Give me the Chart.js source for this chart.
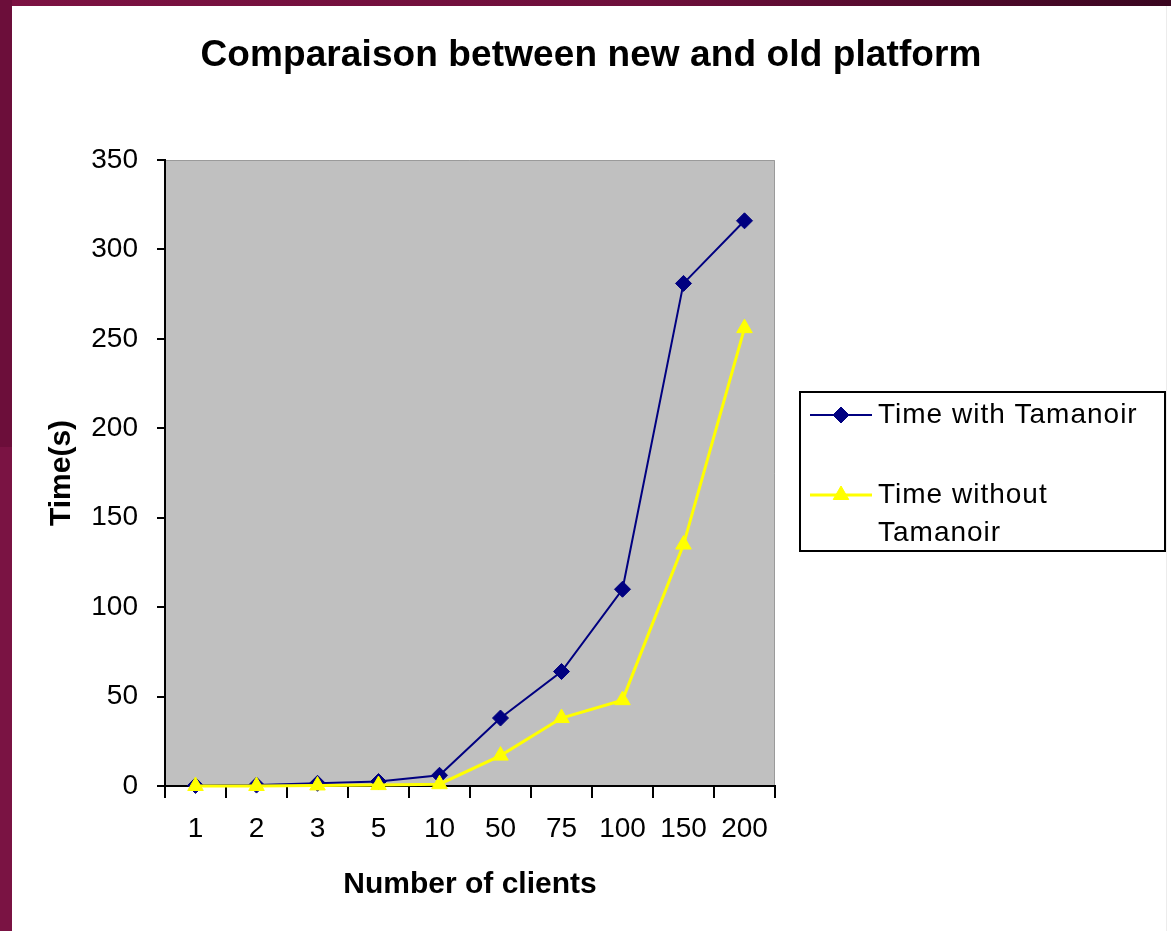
<!DOCTYPE html>
<html>
<head>
<meta charset="utf-8">
<script src="https://cdn.jsdelivr.net/npm/chart.js@4/dist/chart.umd.min.js"></script>
<style>
  html, body { margin: 0; padding: 0; background: #ffffff; }
  body { width: 1171px; height: 931px; position: relative; overflow: hidden; }
  #topbar { position: absolute; left: 0; top: 0; width: 1171px; height: 6px;
    background: linear-gradient(90deg, #7c1242 0%, #6e0f3b 55%, #3a0620 100%); }
  #leftbar { position: absolute; left: 0; top: 0; width: 12px; height: 931px;
    background: linear-gradient(to bottom, #6c0e3a 0%, #6c0e3a 48%, #7a1343 48%, #7a1343 100%); }
  #rightline { position: absolute; left: 1166px; top: 6px; width: 1px; height: 925px; background: #ececec; }
  #wrap { position: absolute; left: 12px; top: 6px; width: 1159px; height: 925px; }
  canvas { display: block; }
</style>
</head>
<body>
<div id="topbar"></div>
<div id="leftbar"></div>
<div id="rightline"></div>
<div id="wrap"><canvas id="c" width="1159" height="925"></canvas></div>
<script>
const chartTitle = 'Comparaison between new and old platform';
const categories = ['1', '2', '3', '5', '10', '50', '75', '100', '150', '200'];
const withTamanoir = [0.3, 0.5, 1.5, 2.5, 6, 38, 64, 110, 281, 316];
const withoutTamanoir = [0, 0, 0.3, 0.5, 1, 17, 38, 48, 135, 256];
const seriesNames = [['Time with Tamanoir'], ['Time without', 'Tamanoir']];
const yTicks = [0, 50, 100, 150, 200, 250, 300, 350];

const FONT = "'Liberation Sans', Arial, Helvetica, sans-serif";

const plotBg = {
  id: 'plotBg',
  beforeDraw(chart) {
    const { ctx, chartArea: a } = chart;
    ctx.save();
    ctx.fillStyle = '#c0c0c0';
    ctx.fillRect(a.left, a.top, a.right - a.left, a.bottom - a.top);
    ctx.strokeStyle = '#9a9a9a';
    ctx.lineWidth = 1;
    ctx.beginPath();
    ctx.moveTo(a.left, a.top + 0.5);
    ctx.lineTo(a.right - 0.5, a.top + 0.5);
    ctx.lineTo(a.right - 0.5, a.bottom);
    ctx.stroke();
    ctx.restore();
  }
};

const topTitle = {
  id: 'topTitle',
  afterDraw(chart) {
    const { ctx } = chart;
    ctx.save();
    ctx.fillStyle = '#000';
    ctx.font = 'bold 37px ' + FONT;
    ctx.textAlign = 'center';
    ctx.textBaseline = 'middle';
    if ('letterSpacing' in ctx) ctx.letterSpacing = '0.1px';
    ctx.fillText(chartTitle, 579, 50);
    ctx.restore();
  }
};

const boxLegend = {
  id: 'boxLegend',
  afterDraw(chart) {
    const { ctx } = chart;
    const bx = 788, by = 386, bw = 365, bh = 159;
    ctx.save();
    ctx.fillStyle = '#ffffff';
    ctx.fillRect(bx, by, bw, bh);
    ctx.strokeStyle = '#000';
    ctx.lineWidth = 2;
    ctx.strokeRect(bx, by, bw, bh);
    const rows = [409, 489];
    chart.data.datasets.forEach((ds, i) => {
      const y = rows[i];
      ctx.strokeStyle = ds.borderColor;
      ctx.lineWidth = ds.borderWidth;
      ctx.beginPath();
      ctx.moveTo(798, y);
      ctx.lineTo(860, y);
      ctx.stroke();
      ctx.fillStyle = ds.pointBackgroundColor;
      ctx.strokeStyle = ds.pointBorderColor;
      ctx.lineWidth = 1;
      Chart.helpers.drawPoint(ctx, { pointStyle: ds.pointStyle, radius: ds.pointRadius, borderWidth: 1 }, 829, y);
      ctx.fillStyle = '#000';
      ctx.font = '28px ' + FONT;
      ctx.textBaseline = 'middle';
      ctx.textAlign = 'left';
      if ('letterSpacing' in ctx) ctx.letterSpacing = '1px';
      seriesNames[i].forEach((line, j) => {
        ctx.fillText(line, 866, y + j * 38);
      });
    });
    ctx.restore();
  }
};

new Chart(document.getElementById('c'), {
  type: 'line',
  data: {
    labels: categories,
    datasets: [
      {
        label: seriesNames[0].join(' '),
        data: withTamanoir,
        borderColor: '#000080',
        backgroundColor: '#000080',
        pointBackgroundColor: '#000080',
        pointBorderColor: '#000080',
        borderWidth: 2,
        pointStyle: 'rectRot',
        pointRadius: 8,
        pointBorderWidth: 1,
        tension: 0,
        clip: false,
        order: 1
      },
      {
        label: seriesNames[1].join(' '),
        data: withoutTamanoir,
        borderColor: '#ffff00',
        backgroundColor: '#ffff00',
        pointBackgroundColor: '#ffff00',
        pointBorderColor: '#ffff00',
        borderWidth: 3,
        pointStyle: 'triangle',
        pointRadius: 9,
        pointBorderWidth: 1,
        tension: 0,
        clip: false,
        order: 0
      }
    ]
  },
  options: {
    responsive: false,
    animation: false,
    devicePixelRatio: 1,
    layout: { padding: { left: 0, right: 396, top: 154, bottom: 0 } },
    plugins: {
      legend: { display: false },
      tooltip: { enabled: false },
      title: { display: false }
    },
    scales: {
      x: {
        type: 'category',
        offset: true,
        border: { color: '#000', width: 2 },
        grid: { display: true, offset: true, drawOnChartArea: false, drawTicks: true, tickLength: 12, color: '#000', lineWidth: 2 },
        ticks: { color: '#000', font: { family: FONT, size: 28 }, padding: 14, maxRotation: 0, autoSkip: false },
        title: { display: true, text: 'Number of clients', color: '#000', font: { family: FONT, size: 30, weight: 'bold' }, padding: { top: 0, bottom: 28 } },
        afterFit(s) { s.height = 145; }
      },
      y: {
        min: 0,
        max: 350,
        afterBuildTicks(s) { s.ticks = yTicks.map(v => ({ value: v })); },
        border: { color: '#000', width: 2 },
        grid: { display: true, drawOnChartArea: false, drawTicks: true, tickLength: 8, color: '#000', lineWidth: 2 },
        ticks: { color: '#000', font: { family: FONT, size: 28 }, padding: 19 },
        title: { display: true, text: 'Time(s)', color: '#000', font: { family: FONT, size: 30, weight: 'bold' }, padding: { top: 32, bottom: 0 } },
        afterFit(s) { s.width = 153; }
      }
    }
  },
  plugins: [plotBg, topTitle, boxLegend]
});
</script>
</body>
</html>
